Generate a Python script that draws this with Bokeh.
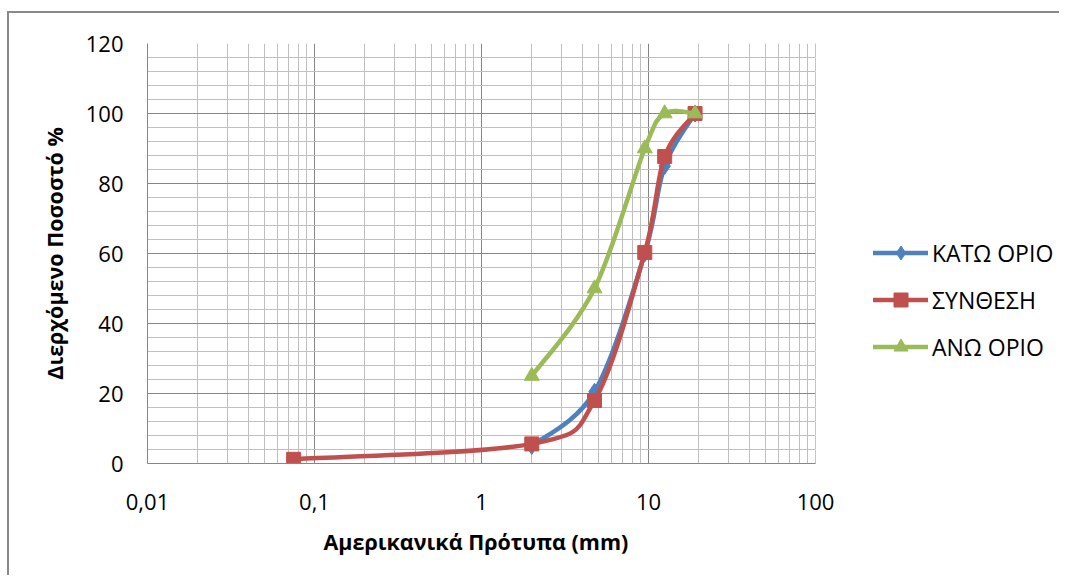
import numpy as np
from bokeh.plotting import figure
from bokeh.models import (FixedTicker, Legend, LegendItem, Range1d, BoxAnnotation,
                          Title)
from bokeh.embed import file_html
from bokeh.resources import INLINE

# ---- data ----
lower_sieve = [2, 4.75, 9.5, 12.5, 19]
lower_pass = [5, 20.5, 60, 85, 100]
mix_sieve = [0.075, 2, 4.75, 9.5, 12.5, 19]
mix_pass = [1.2, 5.6, 18, 60.3, 87.7, 100]
upper_sieve = [2, 4.75, 9.5, 12.5, 19]
upper_pass = [25, 50, 90, 100, 100]

series_names = ["ΚΑΤΩ ΟΡΙΟ", "ΣΥΝΘΕΣΗ", "ΑΝΩ ΟΡΙΟ"]
series_colors = ["#4F81BD", "#C0504D", "#9BBB59"]

x_ticks = [0.01, 0.1, 1, 10, 100]
x_tick_labels = ["0,01", "0,1", "1", "10", "100"]
x_minor = [k * d for d in [0.01, 0.1, 1, 10] for k in range(2, 10)]
y_ticks = [0, 20, 40, 60, 80, 100, 120]
y_minor = [v for v in range(0, 121, 4) if v % 20]
x_min, x_max = 0.01, 100
y_min, y_max = 0, 120

x_title = "Αμερικανικά Πρότυπα (mm)"
y_title = "Διερχόμενο Ποσοστό %"

FONT = "Open Sans"


def smooth(xs, ys):
    """Catmull-Rom style bezier control points (Excel 'smoothed line') in log-x space."""
    lx = np.log10(np.asarray(xs, float))
    y = np.asarray(ys, float)
    P = np.column_stack([lx, y])
    n = len(P)
    out = {k: [] for k in ["x0", "y0", "x1", "y1", "cx0", "cy0", "cx1", "cy1"]}
    for i in range(n - 1):
        p0 = P[max(i - 1, 0)]
        p1 = P[i]
        p2 = P[i + 1]
        p3 = P[min(i + 2, n - 1)]
        c1 = p1 + (p2 - p0) / 6.0
        c2 = p2 - (p3 - p1) / 6.0
        out["x0"].append(10 ** p1[0]); out["y0"].append(p1[1])
        out["x1"].append(10 ** p2[0]); out["y1"].append(p2[1])
        out["cx0"].append(10 ** c1[0]); out["cy0"].append(c1[1])
        out["cx1"].append(10 ** c2[0]); out["cy1"].append(c2[1])
    return out


# layout: plot area of 668 px for the 4 decades; the frame is widened to the
# right so that the legend can sit inside it (the extra part is blanked out)
W, H = 1052, 564
LEFT, TOP = 138, 30
BOTTOM = H - TOP - 420
PLOT_W = 668
frame_w = W - LEFT
decades = np.log10(x_max / x_min)
x_end = x_min * 10 ** (decades * frame_w / PLOT_W)

p = figure(width=W, height=H, x_axis_type="log",
           x_range=Range1d(x_min, x_end), y_range=Range1d(y_min, y_max),
           output_backend="svg", toolbar_location=None,
           min_border_left=LEFT, min_border_right=0,
           min_border_top=TOP, min_border_bottom=BOTTOM)
p.styles = {"border-left": "2px solid #898989", "border-top": "2px solid #898989",
            "margin-left": "7px", "margin-top": "11px"}
p.outline_line_color = None
p.background_fill_color = "white"
p.border_fill_color = "white"

p.xaxis.ticker = FixedTicker(ticks=x_ticks, minor_ticks=x_minor)
p.xaxis.major_label_overrides = {t: l for t, l in zip(x_ticks, x_tick_labels)}
p.xaxis.bounds = (x_min, x_max)
p.yaxis.ticker = FixedTicker(ticks=y_ticks, minor_ticks=y_minor)

for ax in (p.xaxis, p.yaxis):
    ax.axis_line_color = "#868686"
    ax.axis_line_width = 1
    ax.major_tick_out = 0
    ax.major_tick_in = 0
    ax.minor_tick_out = 0
    ax.minor_tick_in = 0
    ax.major_label_text_font = FONT
    ax.major_label_text_font_size = "22px"
    ax.major_label_text_color = "#000000"
    ax.axis_label_text_font = FONT
    ax.axis_label_text_font_size = "21.5px"
    ax.axis_label_text_font_style = "bold"
    ax.axis_label_text_color = "#000000"

p.yaxis.axis_label = y_title
p.xaxis.major_label_standoff = 30
p.yaxis.major_label_standoff = 24
p.yaxis.axis_label_standoff = 14

# x-axis title, centred under the 0.01-100 span (not the widened frame)
p.add_layout(Title(text=x_title, align="left", offset=176, standoff=24,
                   text_font=FONT, text_font_size="21.5px",
                   text_font_style="bold", text_color="#000000"), "below")

for g in (p.xgrid, p.ygrid):
    g.grid_line_color = "#868686"
    g.grid_line_width = 1
    g.minor_grid_line_color = "#BFBFBF"
    g.minor_grid_line_width = 1

# blank out the widened part of the frame (right of 100 mm)
p.add_layout(BoxAnnotation(left=x_max, fill_color="white", fill_alpha=1.0,
                           line_color=None, line_alpha=0, level="underlay"))

items = []
specs = [
    (lower_sieve, lower_pass, "diamond", 17),
    (mix_sieve, mix_pass, "square", 14),
    (upper_sieve, upper_pass, "triangle", 15),
]
for (xs, ys, marker, size), name, color in zip(specs, series_names, series_colors):
    seg = smooth(xs, ys)
    br = p.bezier(x0="x0", y0="y0", x1="x1", y1="y1", cx0="cx0", cy0="cy0",
                  cx1="cx1", cy1="cy1", source=seg, line_color=color,
                  line_width=4.5, line_cap="round")
    sr = p.scatter(xs, ys, marker=marker, size=size, fill_color=color,
                   line_color=color, line_width=1)
    items.append(LegendItem(label=name, renderers=[br, sr]))

legend = Legend(items=items, location=(726, 99), orientation="vertical",
                glyph_width=55, glyph_height=35, label_height=35, spacing=12,
                label_standoff=4, padding=10, margin=0,
                label_text_font=FONT, label_text_font_size="23px",
                label_text_color="#000000",
                border_line_color=None, background_fill_alpha=0)
p.add_layout(legend, "center")

open("out.html", "w").write(file_html(p, INLINE))
